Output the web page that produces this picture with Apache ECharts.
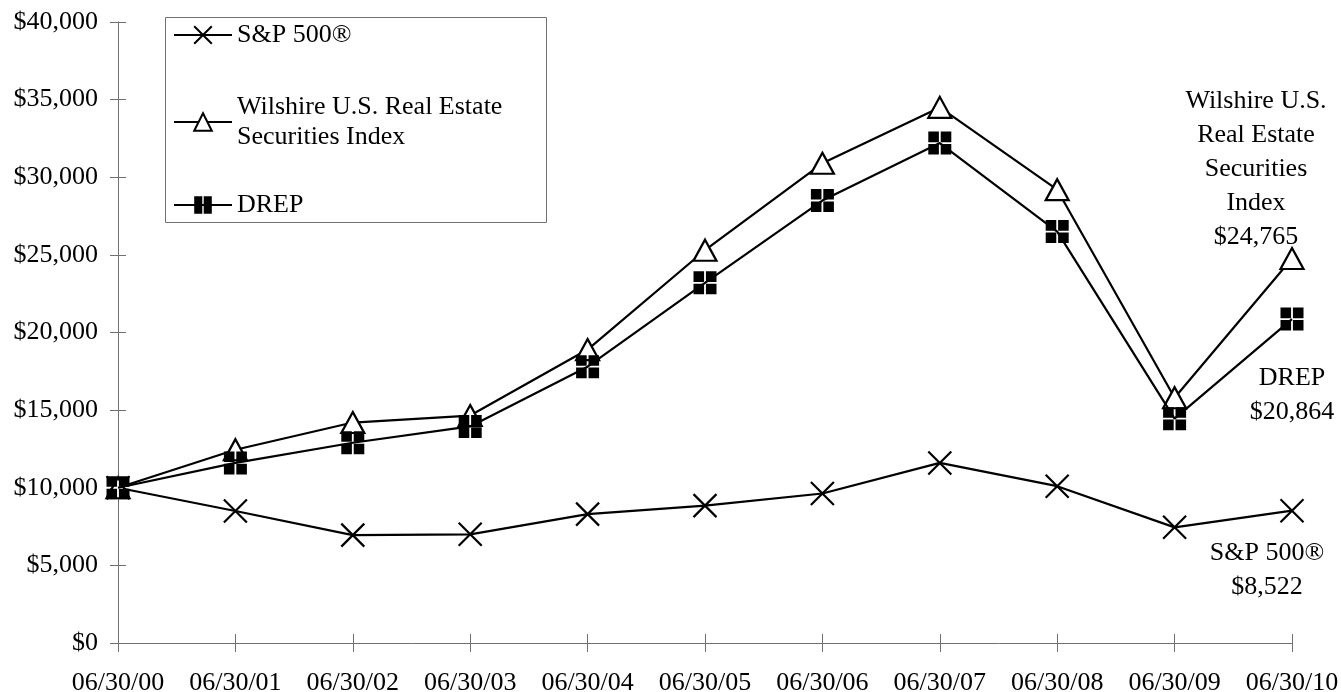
<!DOCTYPE html>
<html>
<head>
<meta charset="utf-8">
<script src="https://cdn.jsdelivr.net/npm/echarts@6/dist/echarts.min.js"></script>
<style>
  html, body { margin: 0; padding: 0; background: #fff; }
  #chart { width: 1341px; height: 692px; }
</style>
</head>
<body>
<div id="chart"></div>
<script>
const dates = ['06/30/00', '06/30/01', '06/30/02', '06/30/03', '06/30/04', '06/30/05',
  '06/30/06', '06/30/07', '06/30/08', '06/30/09', '06/30/10'];
const sp500 = [10000, 8500, 6950, 7000, 8300, 8850, 9630, 11600, 10100, 7450, 8522];
const wilshire = [10000, 12450, 14200, 14650, 18900, 25300, 30900, 34500, 29200, 15800, 24765];
const drep = [10000, 11600, 12900, 13950, 17800, 23200, 28500, 32200, 26500, 14450, 20864];

const FONT = 'Liberation Serif';
const FS = 26;
const X_PATH = 'path://M0,0L20,20M20,0L0,20';
const GRID_PATH = 'path://M0,0h9.2v9.2h-9.2zM10.8,0h9.2v9.2h-9.2zM0,10.8h9.2v9.2h-9.2zM10.8,10.8h9.2v9.2h-9.2z';

// put an end label on the last point only
function withEndLabel(values, text, pos, offset) {
  return values.map((v, i) => {
    if (i !== values.length - 1) return v;
    return {
      value: v,
      label: {
        show: true, formatter: text, position: pos, offset: offset,
        fontFamily: FONT, fontSize: FS, lineHeight: 34, color: '#000', align: 'center'
      }
    };
  });
}

const chart = echarts.init(document.getElementById('chart'));

const legendBase = {
  orient: 'vertical', left: 173, padding: 0, itemWidth: 58, itemHeight: 22, itemGap: 0,
  textStyle: { fontFamily: FONT, fontSize: FS, color: '#000', lineHeight: 30 }
};

const option = {
  animation: false,
  backgroundColor: '#fff',
  grid: { left: 118, right: 49, top: 22, bottom: 49, outerBoundsMode: 'none' },
  graphic: [{
    type: 'rect', left: 165, top: 17, z: 0,
    shape: { width: 381, height: 205 },
    style: { fill: '#fff', stroke: '#707070', lineWidth: 1 }
  }],
  legend: [
    Object.assign({}, legendBase, { top: 20, data: ['S&P 500®'] }),
    Object.assign({}, legendBase, {
      top: 77, data: ['Wilshire U.S. Real Estate Securities Index'],
      formatter: () => 'Wilshire U.S. Real Estate\nSecurities Index',
      textStyle: Object.assign({}, legendBase.textStyle, { padding: [30, 0, 0, 0] })
    }),
    Object.assign({}, legendBase, { top: 190, data: ['DREP'] })
  ],
  xAxis: [{
    type: 'category', data: dates, boundaryGap: false,
    axisLine: { lineStyle: { color: '#707070', width: 1 } },
    axisTick: { show: true, interval: 0, length: 9, lineStyle: { color: '#707070' } },
    axisLabel: { interval: 0, fontFamily: FONT, fontSize: FS, color: '#000', margin: 27 },
    splitLine: { show: false }
  }, {
    type: 'category', data: dates, boundaryGap: false, position: 'bottom',
    axisLine: { show: false },
    axisTick: { show: true, interval: 0, inside: true, length: 9, lineStyle: { color: '#707070' } },
    axisLabel: { show: false }, splitLine: { show: false }
  }],
  yAxis: [{
    type: 'value', min: 0, max: 40000, interval: 5000,
    axisLine: { show: true, lineStyle: { color: '#707070', width: 1 } },
    axisTick: { show: true, length: 8, lineStyle: { color: '#707070' } },
    axisLabel: {
      fontFamily: FONT, fontSize: FS, color: '#000', margin: 20,
      formatter: v => '$' + v.toLocaleString('en-US')
    },
    splitLine: { show: false }
  }, {
    type: 'value', min: 0, max: 40000, interval: 5000, position: 'left',
    axisLine: { show: false },
    axisTick: { show: true, inside: true, length: 8, lineStyle: { color: '#707070' } },
    axisLabel: { show: false }, splitLine: { show: false }
  }],
  series: [
    {
      name: 'S&P 500®', type: 'line',
      data: withEndLabel(sp500, 'S&P 500®\n$8,522', 'bottom', [-25, 6]),
      symbol: X_PATH, symbolSize: 23, showAllSymbol: true,
      lineStyle: { color: '#000', width: 2.2 },
      itemStyle: { color: 'none', borderColor: '#000', borderWidth: 2.2 },
      z: 3
    },
    {
      name: 'Wilshire U.S. Real Estate Securities Index', type: 'line',
      data: withEndLabel(wilshire, 'Wilshire U.S.\nReal Estate\nSecurities\nIndex\n$24,765', 'top', [-36, 12]),
      symbol: 'triangle', symbolSize: [23, 21], showAllSymbol: true,
      lineStyle: { color: '#000', width: 2.2 },
      itemStyle: { color: '#fff', borderColor: '#000', borderWidth: 2.2 },
      z: 4
    },
    {
      name: 'DREP', type: 'line',
      data: withEndLabel(drep, 'DREP\n$20,864', 'bottom', [0, 26]),
      symbol: GRID_PATH, symbolSize: 23, showAllSymbol: true,
      lineStyle: { color: '#000', width: 2.2 },
      itemStyle: { color: '#000', borderWidth: 0 },
      z: 5
    }
  ]
};

chart.setOption(option);
</script>
</body>
</html>
